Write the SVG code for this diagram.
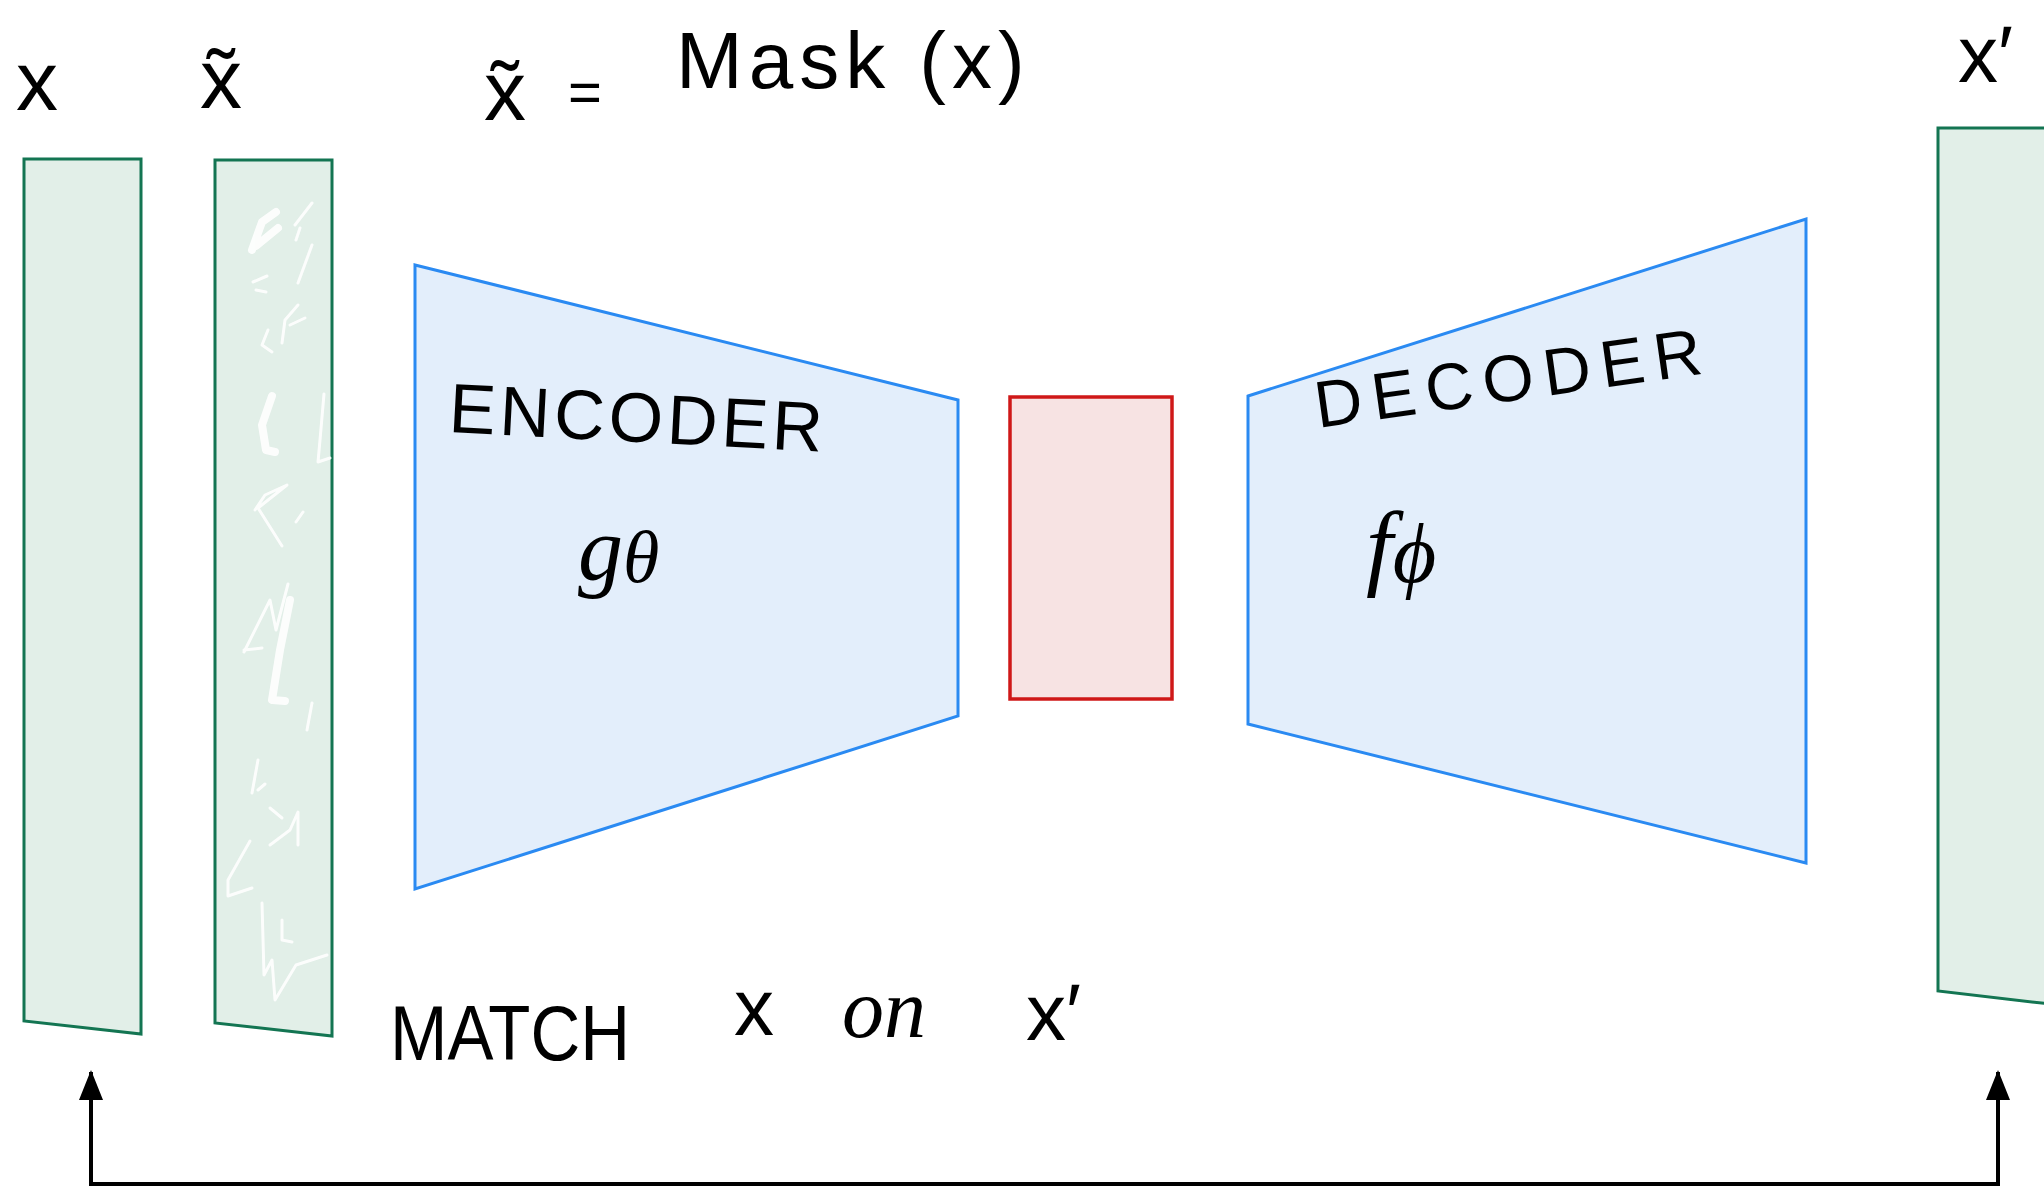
<svg xmlns="http://www.w3.org/2000/svg" width="2044" height="1186" viewBox="0 0 2044 1186">
<defs>
<style>
.panel{fill:#e2efe8;stroke:#137552;stroke-width:3}
.net{fill:#e3eefb;stroke:#2a8af2;stroke-width:3}
.latent{fill:#f7e3e3;stroke:#cf1818;stroke-width:3.5}
.hand{font-family:"Liberation Sans",Arial,sans-serif;fill:#000}
.math{font-family:"Liberation Serif","DejaVu Serif",serif;font-style:italic;fill:#000}
.link{fill:none;stroke:#000;stroke-width:4}
.mask{fill:none;stroke:#fff;stroke-width:3;stroke-linecap:round;stroke-linejoin:round;opacity:0.9}
.mask .thick{stroke-width:8}
</style>
<marker id="arrow" viewBox="0 0 30 24" refX="28" refY="12" markerWidth="30" markerHeight="24" markerUnits="userSpaceOnUse" orient="auto">
<path d="M0 0 L30 12 L0 24 Z" fill="#000"/>
</marker>
</defs>
<rect width="2044" height="1186" fill="#fff"/>

<g id="input-x">
<polygon class="panel" points="24,159 141,159 141,1034 24,1021"/>
<text class="hand" x="16" y="110" font-size="84">x</text>
</g>

<g id="masked-x">
<polygon class="panel" points="215,160 332,160 332,1036 215,1023"/>
<g class="mask">
<path class="thick" d="M252 250 L262 222 L276 212 M256 246 L278 228"/>
<path d="M295 225 L312 203 M296 240 L300 228 M298 283 L312 245"/>
<path d="M253 282 L267 276 M256 290 L266 292"/>
<path d="M282 343 L285 320 L298 305 M290 325 L305 318"/>
<path d="M268 330 L262 345 L272 352"/>
<path class="thick" d="M272 396 L262 425 L266 450 L275 452"/>
<path d="M324 394 L320 440 L318 462 L330 458"/>
<path d="M255 510 L265 495 L287 485 L258 508 L282 546 M296 522 L303 512"/>
<path d="M244 652 L270 600 L276 630 L288 584"/>
<path class="thick" d="M290 600 L280 650 L272 700 L285 701"/>
<path d="M244 650 L262 648"/>
<path d="M307 730 L312 703"/>
<path d="M252 793 L258 760 M258 790 L265 784"/>
<path d="M270 808 L282 818 M270 845 L290 830 L298 812 L298 845"/>
<path d="M250 841 L228 880 L228 896 L252 888"/>
<path d="M262 903 L264 975 L272 960 L275 1000 L296 965 L327 955 M282 920 L282 940 L292 942"/>
</g>
<text class="hand" x="200" y="108" font-size="84">x̃</text>
</g>

<g id="mask-eq">
<text class="hand" x="484" y="120" font-size="84">x̃</text>
<text class="hand" x="568" y="112" font-size="58">=</text>
<text class="hand" x="676" y="88" font-size="80" font-weight="300" letter-spacing="6">Mask (x)</text>
</g>

<g id="encoder">
<polygon class="net" points="415,265 958,400 958,716 415,889"/>
<text class="hand" x="448" y="432" font-size="70" letter-spacing="4" transform="rotate(3 448 432)">ENCODER</text>
<text class="math" x="578" y="580" font-size="90">g<tspan font-size="74" dy="2">θ</tspan></text>
</g>

<g id="latent">
<rect class="latent" x="1010" y="397" width="162" height="302"/>
</g>

<g id="decoder">
<polygon class="net" points="1248,396 1806,219 1806,863 1248,724"/>
<text class="hand" x="1318" y="428" font-size="66" letter-spacing="10" transform="rotate(-8 1318 428)">DECODER</text>
<text class="math" x="1366" y="578" font-size="96">f<tspan font-size="84" dy="4">ϕ</tspan></text>
</g>

<g id="output-x">
<polygon class="panel" points="1938,128 2050,128 2050,1004 1938,991"/>
<text class="hand" x="1958" y="82" font-size="80">x′</text>
</g>

<g id="match-label">
<text class="hand" x="390" y="1060" font-size="78" font-weight="300" textLength="240" lengthAdjust="spacingAndGlyphs">MATCH</text>
<text class="hand" x="734" y="1035" font-size="80">x</text>
<text class="math" x="842" y="1037" font-size="84">on</text>
<text class="hand" x="1026" y="1040" font-size="80">x′</text>
</g>

<g id="connectors">
<path class="link" d="M91 1184 L91 1072" marker-end="url(#arrow)"/>
<path class="link" d="M89 1184 L2000 1184"/>
<path class="link" d="M1998 1184 L1998 1072" marker-end="url(#arrow)"/>
</g>
</svg>
